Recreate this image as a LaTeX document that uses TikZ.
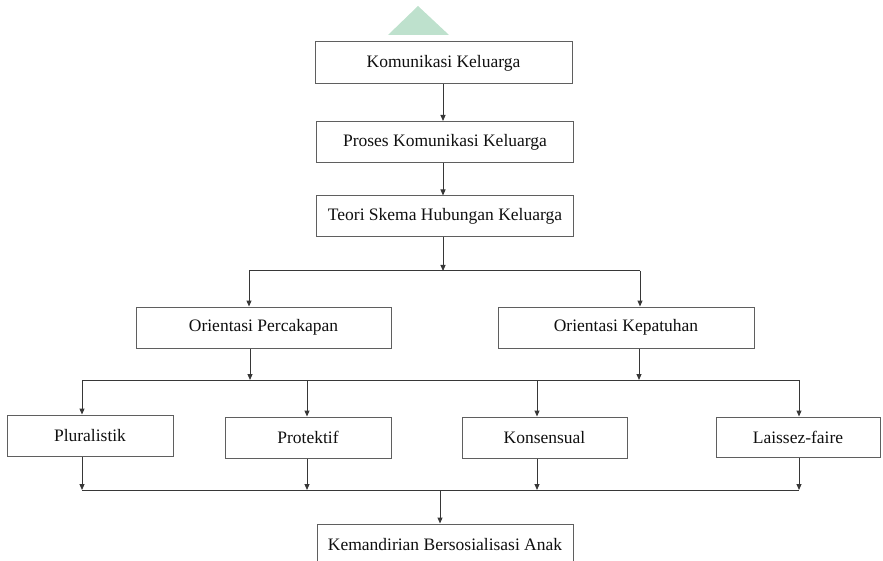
\documentclass[tikz,border=0pt]{standalone}
\usepackage{fontspec}
\setmainfont{Liberation Serif}
\usetikzlibrary{arrows.meta}
\definecolor{wmgreen}{RGB}{190,225,205}
\definecolor{boxline}{RGB}{95,95,95}
\definecolor{conline}{RGB}{55,55,55}
\definecolor{txt}{RGB}{15,15,15}
\begin{document}
\begin{tikzpicture}[x=1pt,y=-1pt,
  box/.style={draw=boxline, line width=1pt, rectangle, inner sep=0pt,
    minimum height=41pt, text=txt, font=\fontsize{17.5}{20}\selectfont},
  conn/.style={draw=conline, line width=1pt},
  arr/.style={conn, -{Triangle[length=6pt,width=5pt]}}]
\useasboundingbox (0,0) rectangle (883,561);
\clip (0,0) rectangle (883,561);
% watermark
\fill[wmgreen] (388,35) -- (418,6) -- (449,35) -- cycle;
% boxes
\node[box, minimum width=257pt, minimum height=42pt] (b1) at (443.5,63) {Komunikasi Keluarga};
\node[box, minimum width=257pt] (b2) at (445,142) {Proses Komunikasi Keluarga};
\node[box, minimum width=257pt] (b3) at (445,216.5) {Teori Skema Hubungan Keluarga};
\node[box, minimum width=255pt] (b4) at (263.5,327.5) {Orientasi Percakapan};
\node[box, minimum width=256pt] (b5) at (626,327.5) {Orientasi Kepatuhan};
\node[box, minimum width=166pt] (b6) at (90,435.5) {Pluralistik};
\node[box, minimum width=166pt] (b7) at (308,437.5) {Protektif};
\node[box, minimum width=165pt] (b8) at (544.5,437.5) {Konsensual};
\node[box, minimum width=164pt, minimum height=40pt] (b9) at (798,437) {Laissez-faire};
\node[box, minimum width=256pt, minimum height=42pt] (b10) at (445,545) {Kemandirian Bersosialisasi Anak};
% junction coordinates
\coordinate (j1) at (443,271);
\coordinate (j1l) at (249,271);
\coordinate (j1r) at (640,271);
\coordinate (j2l) at (82,380);
\coordinate (j2r) at (799,380);
\coordinate (j3l) at (82,490);
\coordinate (j3r) at (799,490);
\coordinate (j3m) at (440,490);
% connectors
\draw[arr] (b1.south -| 443,0) -- (b2.north -| 443,0);
\draw[arr] (b2.south -| 443,0) -- (b3.north -| 443,0);
\draw[arr] (b3.south -| j1) -- (j1);
\draw[conn] (j1l) -- (j1r);
\draw[arr] (j1l) -- (j1l |- b4.north);
\draw[arr] (j1r) -- (j1r |- b5.north);
\draw[arr] (b4.south -| 250,0) -- (250,380);
\draw[arr] (b5.south -| 639,0) -- (639,380);
\draw[conn] (j2l) -- (j2r);
\draw[arr] (j2l) -- (j2l |- b6.north);
\draw[arr] (307,380) -- (b7.north -| 307,0);
\draw[arr] (537,380) -- (b8.north -| 537,0);
\draw[arr] (j2r) -- (j2r |- b9.north);
\draw[arr] (b6.south -| j3l) -- (j3l);
\draw[arr] (b7.south -| 307,0) -- (307,490);
\draw[arr] (b8.south -| 537,0) -- (537,490);
\draw[arr] (b9.south -| j3r) -- (j3r);
\draw[conn] (j3l) -- (j3r);
\draw[arr] (j3m) -- (j3m |- b10.north);
\end{tikzpicture}
\end{document}
